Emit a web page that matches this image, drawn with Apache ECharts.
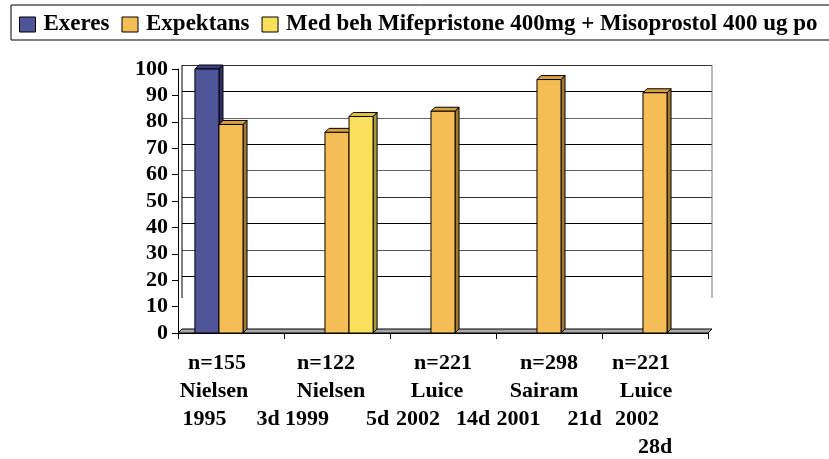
<!DOCTYPE html>
<html><head><meta charset="utf-8">
<script src="https://cdn.jsdelivr.net/npm/echarts@6/dist/echarts.min.js"></script>
<style>html,body{margin:0;padding:0;background:#fff}#c{width:829px;height:459px}</style>
</head><body><div id="c"></div>
<script>
// ---- data ----
const seriesNames = ['Exeres', 'Expektans', 'Med beh Mifepristone 400mg + Misoprostol 400 ug po'];
const xNs = ['n=155', 'n=122', 'n=221', 'n=298', 'n=221'];
const xAuthors = ['Nielsen', 'Nielsen', 'Luice', 'Sairam', 'Luice'];
const xYears = ['1995', '1999', '2002', '2001', '2002'];
const xDays = ['3d', '5d', '14d', '21d', '28d'];
const categories = xNs.map((n, i) => n + ' ' + xAuthors[i] + ' ' + xYears[i] + ' ' + xDays[i]);
const exeres = [100, null, null, null, null];
const expektans = [79, 76, 84, 96, 91];
const medBeh = [null, 82, null, null, null];
const yMin = 0, yMax = 100, yStep = 10;

// ---- layout / style (not data) ----
const FONT = 'Liberation Serif';
const colors = [
  {front: '#4F5599', side: '#2C306F', top: '#3B4186'},
  {front: '#F5BD55', side: '#A6792B', top: '#D9A03E'},
  {front: '#FADF5A', side: '#A89A36', top: '#DCC244'}
];
const FRONT = {left: 178, top: 69, width: 530, height: 264};
const DX = 4, DY = 4;
const BAR_FRAC = 0.227;
// label wrapping quirks of the original (pixel pads)
const labelPad = [
  {l1: 28, l2: 34, gap: 30, wrap: false},
  {l1: 22, l2: 12, gap: 37, wrap: false},
  {l1: 0, l2: 12, gap: 16, wrap: false},
  {l1: 0, l2: 10, gap: 27, wrap: false},
  {l1: 28, l2: 18, gap: 36, wrap: true}
];
const rich = {t: {fontFamily: FONT, fontWeight: 'bold', fontSize: 22, color: '#000', lineHeight: 28}};
labelPad.forEach(p => [p.l1, p.l2, p.gap].forEach(w => { rich['p' + w] = {width: w, fontSize: 10}; }));

function makeSeries(name, values, slot) {
  return {
    type: 'custom', name: name, xAxisIndex: 0, yAxisIndex: 0,
    itemStyle: {color: colors[slot].front},
    encode: {x: 0, y: 1},
    data: values.map((v, i) => v == null ? null : [i, v]).filter(d => d),
    renderItem: function (params, api) {
      const cat = api.value(0), v = api.value(1);
      const top = api.coord([cat, v]);
      const bot = api.coord([cat, 0]);
      const band = api.size([1, 0])[0];
      const bw = band * BAR_FRAC;
      const x0 = top[0] - 1.5 * bw + slot * bw;
      const x1 = x0 + bw;
      const c = colors[slot];
      const st = {stroke: '#000', lineWidth: 1};
      return {
        type: 'group',
        children: [
          {type: 'polygon', shape: {points: [[x1, top[1]], [x1 + DX, top[1] - DY], [x1 + DX, bot[1] - DY], [x1, bot[1]]]},
            style: Object.assign({fill: c.side}, st)},
          {type: 'polygon', shape: {points: [[x0, top[1]], [x0 + DX, top[1] - DY], [x1 + DX, top[1] - DY], [x1, top[1]]]},
            style: Object.assign({fill: c.top}, st)},
          {type: 'rect', shape: {x: x0, y: top[1], width: bw, height: bot[1] - top[1]},
            style: Object.assign({fill: c.front}, st)}
        ]
      };
    }
  };
}

const chart = echarts.init(document.getElementById('c'), null, {renderer: 'canvas'});
const gridColors = ['transparent', 'transparent', '#000', '#555', '#000', '#333', '#666', '#000', '#666', '#000', '#333'];
const fx0 = FRONT.left, fx1 = FRONT.left + FRONT.width, fy1 = FRONT.top + FRONT.height;

chart.setOption({
  animation: false,
  backgroundColor: '#fff',
  legend: {
    left: 19, top: 13, padding: 0, itemWidth: 16, itemHeight: 15, itemGap: 12, icon: 'rect',
    itemStyle: {borderColor: '#000', borderWidth: 1},
    textStyle: {fontFamily: FONT, fontWeight: 'bold', fontSize: 23, color: '#000', padding: [0, 0, 0, 3]},
    data: seriesNames
  },
  grid: [
    {left: FRONT.left, top: FRONT.top, width: FRONT.width, height: FRONT.height},
    {left: FRONT.left + DX, top: FRONT.top - DY, width: FRONT.width, height: FRONT.height}
  ],
  xAxis: [
    {
      type: 'category', gridIndex: 0, data: categories,
      axisLine: {show: true, lineStyle: {color: '#000', width: 1}},
      axisTick: {show: true, length: 6, lineStyle: {color: '#000'}},
      axisLabel: {
        interval: 0, margin: 16, rich: rich,
        formatter: function (value, idx) {
          const p = labelPad[idx];
          let s = '{t|' + xNs[idx] + '}{p' + p.l1 + '| }\n{t|' + xAuthors[idx] + '}{p' + p.l2 + '| }\n';
          if (p.wrap) s += '{t|' + xYears[idx] + '}{p' + p.gap + '| }\n{t|' + xDays[idx] + '}';
          else s += '{t|' + xYears[idx] + '}{p' + p.gap + '| }{t|' + xDays[idx] + '}';
          return s;
        }
      }
    },
    {type: 'category', gridIndex: 1, data: categories, show: false}
  ],
  yAxis: [
    {
      type: 'value', gridIndex: 0, min: yMin, max: yMax, interval: yStep,
      axisLine: {show: true, lineStyle: {color: '#000'}},
      axisTick: {show: true, length: 6, lineStyle: {color: '#000'}},
      splitLine: {show: false},
      axisLabel: {margin: 10, fontFamily: FONT, fontWeight: 'bold', fontSize: 22, color: '#000'}
    },
    {
      type: 'value', gridIndex: 1, min: yMin, max: yMax, interval: yStep,
      axisLine: {show: false}, axisTick: {show: false}, axisLabel: {show: false},
      splitLine: {show: true, lineStyle: {color: gridColors, width: 1}}
    }
  ],
  graphic: [
    {type: 'rect', shape: {x: 11, y: 5, width: 830, height: 35}, style: {fill: 'none', stroke: '#000', lineWidth: 1}, z: 10},
    {type: 'polygon', z: 1, shape: {points: [[fx0, fy1], [fx1, fy1], [fx1 + DX, fy1 - DY], [fx0 + DX, fy1 - DY]]},
      style: {fill: '#A8A8A8', stroke: '#000', lineWidth: 1}},
    {type: 'line', z: 1, shape: {x1: fx0 + DX, y1: FRONT.top - DY, x2: fx0 + DX, y2: fy1 - 35}, style: {stroke: '#000', lineWidth: 1}},
    {type: 'line', z: 1, shape: {x1: fx1 + DX, y1: FRONT.top - DY, x2: fx1 + DX, y2: fy1 - 35}, style: {stroke: '#777', lineWidth: 1}}
  ],
  series: [
    makeSeries(seriesNames[0], exeres, 0),
    makeSeries(seriesNames[1], expektans, 1),
    makeSeries(seriesNames[2], medBeh, 2)
  ]
});
</script>
</body></html>
